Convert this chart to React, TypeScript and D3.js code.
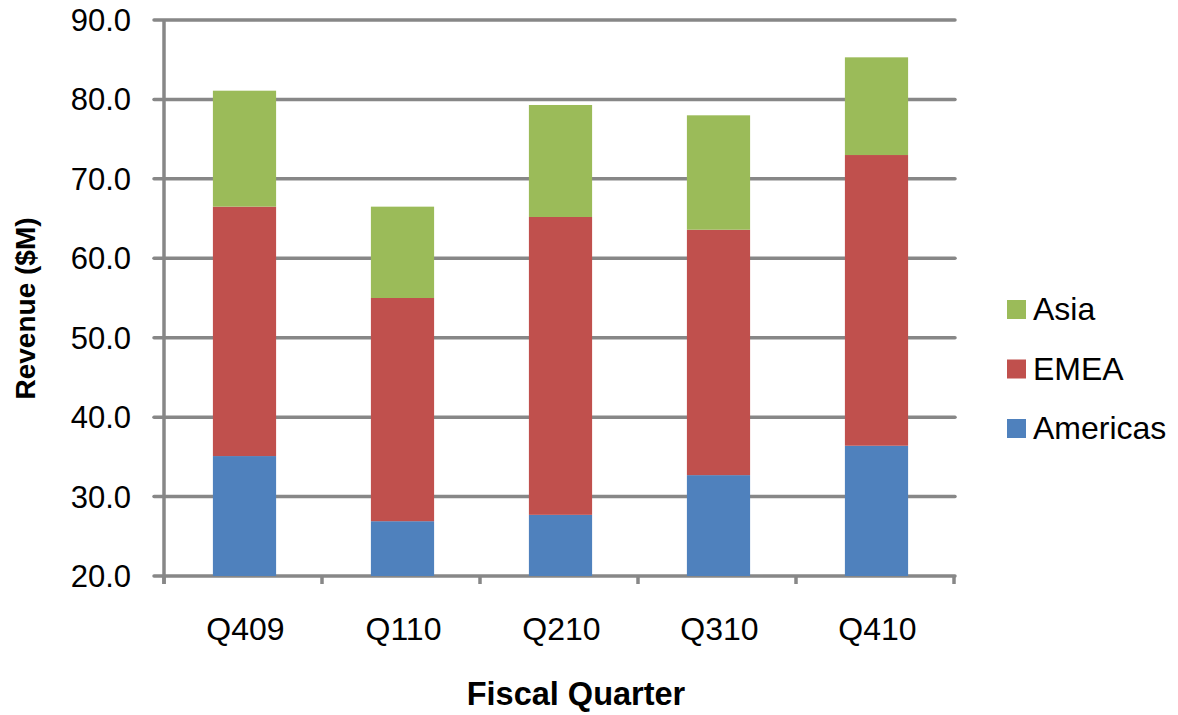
import React from "react";
import * as d3 from "d3";

const quarters = ["Q409", "Q110", "Q210", "Q310", "Q410"];
const americas = [35.1, 26.9, 27.7, 32.7, 36.4];
const emea = [31.4, 28.1, 37.5, 30.9, 36.6];
const asia = [14.6, 11.5, 14.1, 14.4, 12.3];
const seriesNames = ["Americas", "EMEA", "Asia"];
const seriesColors = ["#4F81BD", "#C0504D", "#9BBB59"];
const yTicks = [20, 30, 40, 50, 60, 70, 80, 90];

const W = 1178;
const H = 715;
const left = 164;
const right = 954;
const top = 20;
const bottom = 576;
const gridColor = "#878787";
const font = "'Liberation Sans', Arial, sans-serif";

export default function App() {
  const rows = quarters.map((q, i) => ({
    q,
    Americas: americas[i],
    EMEA: emea[i],
    Asia: asia[i],
  }));
  const stacked = d3.stack<any>().keys(seriesNames)(rows);

  // bars sit a touch right of the band centre in the original
  const x = d3
    .scaleBand()
    .domain(quarters)
    .range([left + 1.5, right + 1.5])
    .paddingInner(0.6)
    .paddingOuter(0.3);
  const y = d3.scaleLinear().domain([20, 90]).range([bottom, top]);
  const step = x.step();
  const bounds = d3.range(quarters.length + 1).map((i) => left + i * step);

  return (
    <svg
      width={W}
      height={H}
      style={{ position: "absolute", left: 0, top: 0, background: "#fff" }}
      fontFamily={font}
    >
      <defs>
        <clipPath id="plot">
          <rect x={left} y={top - 2} width={right - left + 4} height={bottom - top + 2} />
        </clipPath>
      </defs>
      {/* grid lines */}
      {yTicks.map((t) => (
        <line
          key={t}
          x1={left - 10}
          x2={right + 1}
          y1={y(t)}
          y2={y(t)}
          stroke={gridColor}
          strokeWidth={3.5}
          strokeLinecap="round"
        />
      ))}
      {/* bars */}
      <g clipPath="url(#plot)">
        {stacked.map((s, si) =>
          s.map((d, i) => (
            <rect
              key={si + "-" + i}
              x={x(quarters[i])}
              width={x.bandwidth()}
              y={y(d[1])}
              height={y(d[0]) - y(d[1])}
              fill={seriesColors[si]}
            />
          ))
        )}
      </g>
      {/* y axis line */}
      <line x1={left} x2={left} y1={top} y2={bottom + 8} stroke={gridColor} strokeWidth={3.5} />
      {/* bottom tick marks */}
      {bounds.map((b, i) => (
        <line
          key={i}
          x1={b}
          x2={b}
          y1={bottom}
          y2={bottom + 8}
          stroke={gridColor}
          strokeWidth={3.5}
        />
      ))}
      {/* y tick labels */}
      {yTicks.map((t) => (
        <text key={t} x={131} y={y(t) + 11} textAnchor="end" fontSize={31} fill="#000">
          {d3.format(".1f")(t)}
        </text>
      ))}
      {/* x labels */}
      {quarters.map((q) => (
        <text
          key={q}
          x={(x(q) as number) + x.bandwidth() / 2 + 1}
          y={640}
          textAnchor="middle"
          fontSize={32}
          fill="#000"
        >
          {q}
        </text>
      ))}
      <text x={576} y={705} textAnchor="middle" fontSize={32.5} fontWeight="bold" fill="#000">
        Fiscal Quarter
      </text>
      <text
        transform={`translate(35, 308.5) rotate(-90)`}
        textAnchor="middle"
        fontSize={28}
        fontWeight="bold"
        fill="#000"
      >
        Revenue ($M)
      </text>
      {/* legend */}
      {seriesNames
        .slice()
        .reverse()
        .map((name, i) => {
          const color = seriesColors[seriesNames.indexOf(name)];
          const base = 320 + i * 59.5;
          return (
            <g key={name}>
              <rect x={1007} y={base - 20} width={19} height={19} fill={color} />
              <text x={1033} y={base} fontSize={32} fill="#000">
                {name}
              </text>
            </g>
          );
        })}
    </svg>
  );
}
